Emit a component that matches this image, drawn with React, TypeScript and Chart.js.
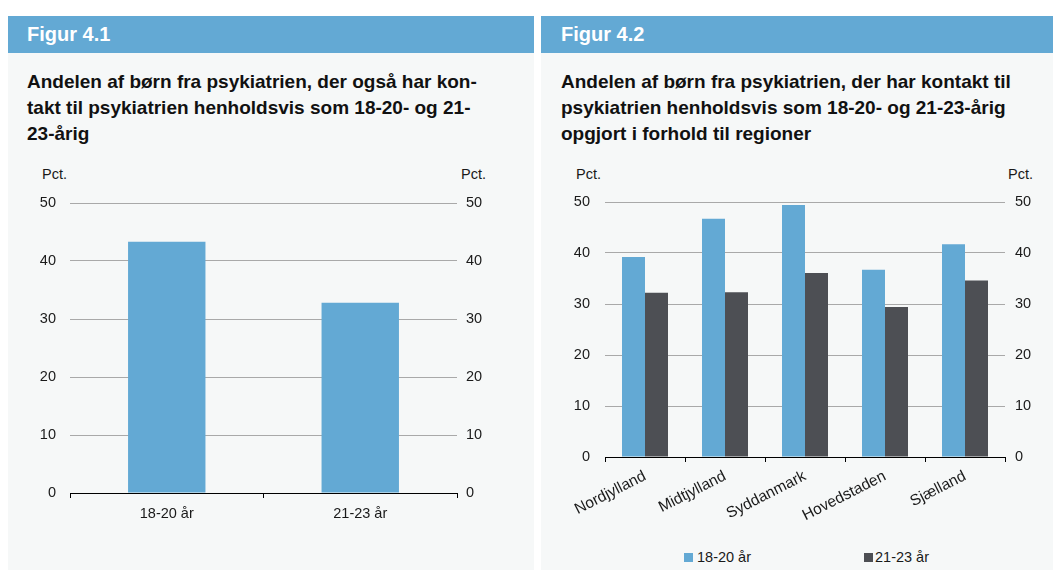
import React, { useEffect, useRef } from "react";
import { Chart, registerables } from "chart.js";

Chart.register(...registerables);

const FONT = '"Liberation Sans", Arial, Helvetica, sans-serif';
const BLUE = "#63a9d4";
const DARK = "#4d4f54";
const GRID = "#a9a9a9";
const TEXT = "#1a1a1a";
const PANEL_BG = "#f6f8f8";

// ---- data ----
const fig1Categories = ["18-20 år", "21-23 år"];
const fig1Values = [43.3, 32.8];

const regions = ["Nordjylland", "Midtjylland", "Syddanmark", "Hovedstaden", "Sjælland"];
const seriesLabels = ["18-20 år", "21-23 år"];
const age1820 = [39.2, 46.7, 49.4, 36.7, 41.7];
const age2123 = [32.2, 32.3, 36.1, 29.4, 34.6];

const yMin = 0;
const yMax = 50;
const yStep = 10;

function yScales(leftW: number, rightW: number, leftPad: number, rightPad: number) {
  const tickFont = { size: 14.5, family: FONT };
  const fix = (w: number) => (s: any) => {
    s.width = w;
    s.paddingTop = 0;
    s.paddingBottom = 0;
  };
  return {
    y: {
      position: "left",
      min: yMin,
      max: yMax,
      ticks: { stepSize: yStep, color: TEXT, font: tickFont, padding: leftPad },
      grid: { color: GRID, lineWidth: 1, drawTicks: false },
      border: { display: false },
      afterFit: fix(leftW),
    },
    y2: {
      position: "right",
      min: yMin,
      max: yMax,
      ticks: { stepSize: yStep, color: TEXT, font: tickFont, padding: rightPad },
      grid: { drawOnChartArea: false, drawTicks: false },
      border: { display: false },
      afterFit: fix(rightW),
    },
  };
}

function xScale(height: number, rotation: number, pad: number, size: number) {
  return {
    offset: true,
    grid: {
      display: true,
      drawOnChartArea: false,
      drawTicks: true,
      tickLength: 5,
      color: "#000",
      offset: true,
    },
    border: { display: true, color: "#000", width: 1 },
    ticks: {
      color: TEXT,
      font: { size, family: FONT },
      padding: pad,
      minRotation: rotation,
      maxRotation: rotation,
      autoSkip: false,
    },
    afterFit: (s: any) => {
      s.height = height;
    },
  };
}

function ChartCanvas({ width, height, config }: { width: number; height: number; config: () => any }) {
  const ref = useRef<HTMLCanvasElement | null>(null);
  useEffect(() => {
    if (!ref.current) return;
    const chart = new Chart(ref.current, config());
    return () => chart.destroy();
  }, []);
  return <canvas ref={ref} width={width} height={height} style={{ width, height, display: "block" }} />;
}

const fig1Config = () => ({
  type: "bar",
  data: {
    labels: fig1Categories,
    datasets: [
      {
        label: "Andel",
        data: fig1Values,
        backgroundColor: BLUE,
        borderWidth: 0,
        categoryPercentage: 1,
        barPercentage: 0.4,
        yAxisID: "y",
      },
    ],
  },
  options: {
    responsive: false,
    animation: false,
    layout: { padding: { top: 20, left: 0, right: 0, bottom: 0 } },
    plugins: { legend: { display: false }, tooltip: { enabled: false } },
    scales: {
      x: xScale(47, 0, 7, 14.5),
      ...yScales(62, 77, 14, 9),
    },
  },
});

const fig2Config = () => ({
  type: "bar",
  data: {
    labels: regions,
    datasets: [
      {
        label: seriesLabels[0],
        data: age1820,
        backgroundColor: BLUE,
        borderWidth: 0,
        categoryPercentage: 0.575,
        barPercentage: 1,
        yAxisID: "y",
      },
      {
        label: seriesLabels[1],
        data: age2123,
        backgroundColor: DARK,
        borderWidth: 0,
        categoryPercentage: 0.575,
        barPercentage: 1,
        yAxisID: "y",
      },
    ],
  },
  options: {
    responsive: false,
    animation: false,
    layout: { padding: { top: 20, left: 0, right: 0, bottom: 0 } },
    plugins: { legend: { display: false }, tooltip: { enabled: false } },
    scales: {
      x: xScale(78, 27, 5, 15.5),
      ...yScales(64, 48, 15, 10),
    },
  },
});

const headerStyle: React.CSSProperties = {
  position: "absolute",
  left: 0,
  top: 0,
  right: 0,
  height: 37,
  background: BLUE,
  color: "#fff",
  fontFamily: FONT,
  fontWeight: "bold",
  fontSize: 20,
  lineHeight: "37px",
  whiteSpace: "nowrap",
};

const titleStyle: React.CSSProperties = {
  position: "absolute",
  top: 53,
  fontFamily: FONT,
  fontWeight: "bold",
  fontSize: 19,
  lineHeight: "26px",
  color: "#111",
  whiteSpace: "nowrap",
};

const smallText: React.CSSProperties = {
  position: "absolute",
  fontFamily: FONT,
  fontSize: 14.5,
  lineHeight: "18px",
  color: TEXT,
  whiteSpace: "nowrap",
};

function Panel({
  left,
  width,
  figure,
  titleLines,
  textLeft,
  children,
}: {
  left: number;
  width: number;
  figure: string;
  titleLines: string[];
  textLeft: number;
  children: React.ReactNode;
}) {
  return (
    <div
      style={{
        position: "absolute",
        left,
        top: 16,
        width,
        height: 554,
        background: PANEL_BG,
        overflow: "hidden",
      }}
    >
      <div style={headerStyle}>
        <span style={{ paddingLeft: textLeft }}>{figure}</span>
      </div>
      <div style={{ ...titleStyle, left: textLeft }}>
        {titleLines.map((t, i) => (
          <div key={i}>{t}</div>
        ))}
      </div>
      {children}
    </div>
  );
}

export default function App() {
  return (
    <div style={{ position: "absolute", left: 0, top: 0, width: 1053, height: 570, background: "#fff" }}>
      <Panel
        left={8}
        width={526}
        figure="Figur 4.1"
        textLeft={19}
        titleLines={[
          "Andelen af børn fra psykiatrien, der også har kon-",
          "takt til psykiatrien henholdsvis som 18-20- og 21-",
          "23-årig",
        ]}
      >
        <div style={{ ...smallText, left: 34, top: 149 }}>Pct.</div>
        <div style={{ ...smallText, left: 453, top: 149 }}>Pct.</div>
        <div style={{ position: "absolute", left: 0, top: 167 }}>
          <ChartCanvas width={526} height={357} config={fig1Config} />
        </div>
      </Panel>
      <Panel
        left={541}
        width={512}
        figure="Figur 4.2"
        textLeft={20}
        titleLines={[
          "Andelen af børn fra psykiatrien, der har kontakt til",
          "psykiatrien henholdsvis som 18-20- og 21-23-årig",
          "opgjort i forhold til regioner",
        ]}
      >
        <div style={{ ...smallText, left: 35, top: 149 }}>Pct.</div>
        <div style={{ ...smallText, left: 467, top: 149 }}>Pct.</div>
        <div style={{ position: "absolute", left: 0, top: 166 }}>
          <ChartCanvas width={512} height={353} config={fig2Config} />
        </div>
        <div style={{ ...smallText, left: 143, top: 532, display: "flex", alignItems: "center" }}>
          <span style={{ display: "inline-block", width: 9, height: 9, background: BLUE, marginRight: 4 }} />
          {seriesLabels[0]}
        </div>
        <div style={{ ...smallText, left: 323, top: 532, display: "flex", alignItems: "center" }}>
          <span style={{ display: "inline-block", width: 9, height: 9, background: DARK, marginRight: 2 }} />
          {seriesLabels[1]}
        </div>
      </Panel>
    </div>
  );
}
